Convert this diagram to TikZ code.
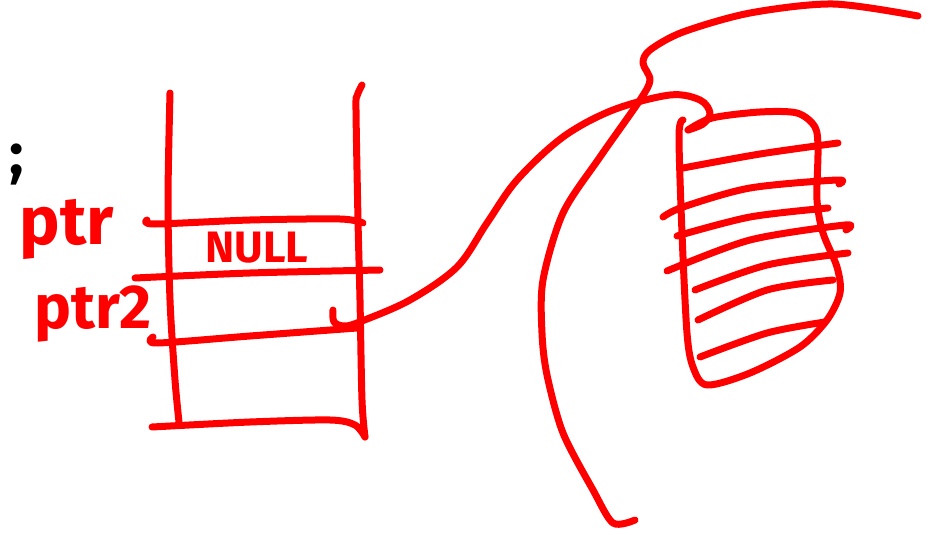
\documentclass[tikz,border=0pt]{standalone}
\usepackage{fontspec}
\setmainfont{Fira Sans}
\usepackage{xcolor}
\usepackage{tikz}
\usetikzlibrary{positioning}

\begin{document}
\begin{tikzpicture}[x=1pt, y=-1pt,
  ink/.style={red, line width=7pt, line cap=round, line join=round},
  hand/.style={red, inner sep=0pt, font=\bfseries\fontsize{62}{62}\selectfont},
  cellnote/.style={red, inner sep=0pt, font=\bfseries\fontsize{44}{44}\selectfont}]

\useasboundingbox (0,0) rectangle (938,535);

% Labels
\node[inner sep=0pt, font=\bfseries\fontsize{60}{60}\selectfont] (semi) at (17,165) {;};
\node[hand, font=\bfseries\fontsize{68}{68}\selectfont] (ptr) at (67,229) {ptr};
\node[hand] (ptrtwo) at (93,314) {ptr2};
\node[cellnote] (null) at (257,248) {NULL};

% Stack frame: side walls
\draw[ink] plot[smooth, tension=0.5] coordinates {(170,93) (168,200) (170,300) (175,380) (179,422)};
\draw[ink] plot[smooth, tension=0.5] coordinates {(362,85) (357,96) (356,110) (358,220) (360,300) (362,400) (365,437)};

% Stack frame: cell borders
\draw[ink] plot[smooth, tension=0.5] coordinates {(147,220) (155,224) (250,220) (340,219) (363,223)};
\draw[ink] plot[smooth, tension=0.5] coordinates {(135,278) (250,273) (380,270)};
\draw[ink] plot[smooth, tension=0.5] coordinates {(153,337) (157,343) (250,336) (357,328)};
\draw[ink] plot[smooth, tension=0.5] coordinates {(152,427) (250,422) (330,420) (355,425) (365,437)};

% Pointer from ptr2 to the heap block
\coordinate (cell) at (333,310);
\coordinate (block) at (688,130);
\draw[ink] plot[smooth, tension=0.55] coordinates {(cell) (334,322) (345,326) (362,321) (410,300) (457,267) (487,223) (517,180) (563,137) (613,110) (670,95) (700,100) (710,113) (703,124) (block)};

% Heap block
\draw[ink] plot[smooth, tension=0.5] coordinates {(block) (712,118) (760,112) (797,113) (815,127) (818,150) (817,200) (823,233) (837,267) (840,293) (827,320) (800,347) (750,373) (707,385) (693,367) (687,333) (682,233) (679,135) (683,120)};

% Heap block: rows
\draw[ink] plot[smooth, tension=0.5] coordinates {(683,168) (760,154) (838,143)};
\draw[ink] plot[smooth, tension=0.5] coordinates {(663,217) (683,207) (750,188) (837,180) (839,184)};
\draw[ink] plot[smooth, tension=0.5] coordinates {(677,236) (750,217) (828,208)};
\draw[ink] plot[smooth, tension=0.5] coordinates {(667,271) (750,240) (845,225) (846,230)};
\draw[ink] plot[smooth, tension=0.5] coordinates {(695,290) (767,265) (848,253)};
\draw[ink] plot[smooth, tension=0.5] coordinates {(698,320) (767,290) (833,280)};
\draw[ink] plot[smooth, tension=0.5] coordinates {(700,357) (767,333) (825,322)};

% Long stroke across the right side
\draw[ink] plot[smooth, tension=0.5] coordinates {(918,16) (833,4) (750,13) (683,32) (650,50) (643,63) (650,80) (640,100) (600,157) (563,213) (543,280) (542,333) (547,375) (563,433) (593,490) (613,523) (635,520)};

\end{tikzpicture}
\end{document}
